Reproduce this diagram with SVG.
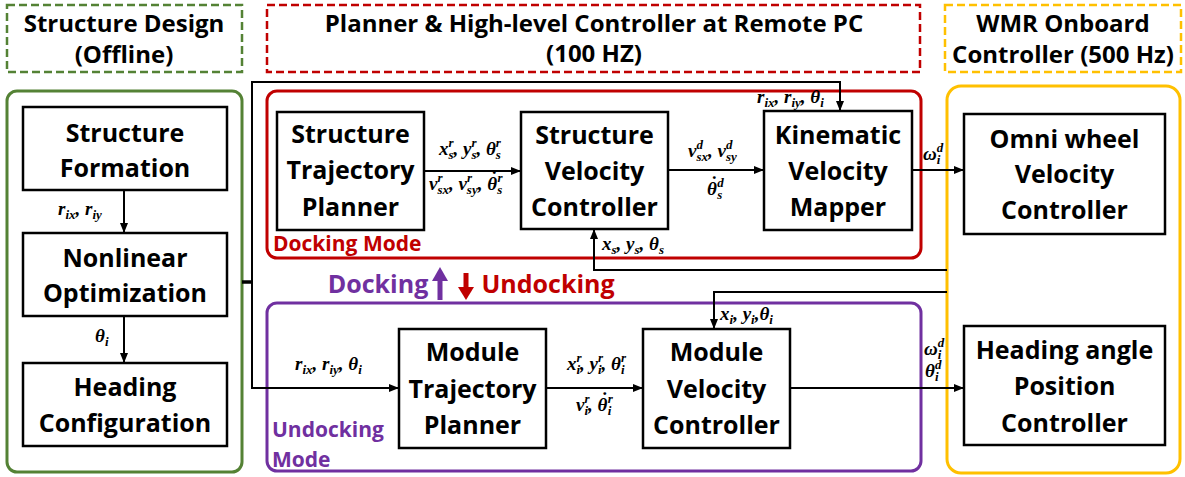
<svg xmlns="http://www.w3.org/2000/svg" width="1185" height="477" viewBox="0 0 1185 477">
<style>
.t{font-family:"Open Sans","Liberation Sans",sans-serif;font-weight:bold;font-size:25px;text-anchor:middle;fill:#000}
.h{font-size:24px}
.m{font-family:"Liberation Serif","DejaVu Serif",serif;font-style:italic;font-weight:bold;font-size:19px;fill:#000}
.s{font-size:13px}
.box{fill:#fff;stroke:#000;stroke-width:2.5}
.dash{fill:#fff;stroke-width:2.5;stroke-dasharray:8 4}
.frame{fill:none;stroke-width:3}
.c{fill:none;stroke:#000;stroke-width:2}
.mode{font-family:"Open Sans","Liberation Sans",sans-serif;font-weight:bold;font-size:21px}
</style>
<defs>
<marker id="ah" markerUnits="userSpaceOnUse" markerWidth="10" markerHeight="10" viewBox="0 0 10 10" refX="10" refY="5" orient="auto">
<path d="M0,1 L10,5 L0,9 Z" fill="#000"/>
</marker>
</defs>
<rect width="1185" height="477" fill="#fff"/>

<g id="headers">
<rect class="dash" x="7" y="5" width="235" height="67" stroke="#548235"/>
<text class="t h" x="124" y="32">Structure Design</text>
<text class="t h" x="124" y="63">(Offline)</text>
<rect class="dash" x="267" y="5" width="653" height="67" stroke="#C00000"/>
<text class="t h" x="594" y="32">Planner &amp; High-level Controller at Remote PC</text>
<text class="t h" x="594" y="62">(100 HZ)</text>
<rect class="dash" x="945" y="5" width="236" height="67" stroke="#FFC000"/>
<text class="t h" x="1063" y="32">WMR Onboard</text>
<text class="t h" x="1063" y="63">Controller (500 Hz)</text>
</g>

<g id="frames">
<rect class="frame" x="7" y="91" width="235" height="381" rx="10" stroke="#548235"/>
<rect class="frame" x="267" y="91" width="654" height="167" rx="10" stroke="#C00000"/>
<rect class="frame" x="267" y="303" width="654" height="168" rx="10" stroke="#7030A0"/>
<rect class="frame" x="947" y="86" width="233" height="387" rx="14" stroke="#FFC000"/>
<text class="mode" x="273" y="251" fill="#C00000">Docking Mode</text>
<text class="mode" x="272" y="437" fill="#7030A0">Undocking</text>
<text class="mode" x="272" y="467" fill="#7030A0">Mode</text>
</g>

<g id="mode-switch">
<text class="t" x="378" y="293" style="fill:#7030A0">Docking</text>
<rect x="437.5" y="280" width="5" height="20" fill="#7030A0"/>
<polygon points="432,281 448,281 440,267" fill="#7030A0"/>
<rect x="463.5" y="273" width="5" height="16" fill="#C00000"/>
<polygon points="458,287 474,287 466,300" fill="#C00000"/>
<text class="t" x="548" y="293" style="fill:#C00000">Undocking</text>
</g>

<g id="structure-formation">
<rect class="box" x="23" y="107" width="204" height="83"/>
<text class="t" x="125" y="142">Structure</text>
<text class="t" x="125" y="177">Formation</text>
</g>
<g id="nonlinear-optimization">
<rect class="box" x="23" y="233" width="204" height="83"/>
<text class="t" x="125" y="267">Nonlinear</text>
<text class="t" x="125" y="302">Optimization</text>
</g>
<g id="heading-configuration">
<rect class="box" x="23" y="363" width="204" height="83"/>
<text class="t" x="125" y="396">Heading</text>
<text class="t" x="125" y="432">Configuration</text>
</g>
<g id="structure-trajectory-planner">
<rect class="box" x="277" y="112" width="147" height="118"/>
<text class="t" x="350.5" y="143">Structure</text>
<text class="t" x="350.5" y="179">Trajectory</text>
<text class="t" x="350.5" y="216">Planner</text>
</g>
<g id="structure-velocity-controller">
<rect class="box" x="521" y="112" width="147" height="117"/>
<text class="t" x="594.5" y="144">Structure</text>
<text class="t" x="594.5" y="180">Velocity</text>
<text class="t" x="594.5" y="216">Controller</text>
</g>
<g id="kinematic-velocity-mapper">
<rect class="box" x="764" y="111" width="148" height="119"/>
<text class="t" x="838" y="144">Kinematic</text>
<text class="t" x="838" y="180">Velocity</text>
<text class="t" x="838" y="216">Mapper</text>
</g>
<g id="omni-wheel-velocity-controller">
<rect class="box" x="964" y="114" width="201" height="120"/>
<text class="t" x="1064.5" y="148">Omni wheel</text>
<text class="t" x="1064.5" y="183">Velocity</text>
<text class="t" x="1064.5" y="219">Controller</text>
</g>
<g id="heading-angle-position-controller">
<rect class="box" x="964" y="326" width="201" height="119"/>
<text class="t" x="1064.5" y="359">Heading angle</text>
<text class="t" x="1064.5" y="395">Position</text>
<text class="t" x="1064.5" y="432">Controller</text>
</g>
<g id="module-trajectory-planner">
<rect class="box" x="399" y="329" width="147" height="119"/>
<text class="t" x="472.5" y="361">Module</text>
<text class="t" x="472.5" y="398">Trajectory</text>
<text class="t" x="472.5" y="434">Planner</text>
</g>
<g id="module-velocity-controller">
<rect class="box" x="643" y="329" width="147" height="119"/>
<text class="t" x="716.5" y="361">Module</text>
<text class="t" x="716.5" y="398">Velocity</text>
<text class="t" x="716.5" y="434">Controller</text>
</g>

<g id="connectors">
<path class="c" d="M124 190 V233" marker-end="url(#ah)"/>
<path class="c" d="M124 316 V363" marker-end="url(#ah)"/>
<path d="M242 282 H253" stroke="#000" stroke-width="3.5"/>
<path class="c" d="M252 282 V82 H840 V111" stroke-width="2.5" marker-end="url(#ah)"/>
<path class="c" d="M252 282 V388 H399" stroke-width="2.5" marker-end="url(#ah)"/>
<path class="c" d="M424 171 H521" marker-end="url(#ah)"/>
<path class="c" d="M668 170 H764" marker-end="url(#ah)"/>
<path class="c" d="M912 170 H964" marker-end="url(#ah)"/>
<path class="c" d="M947 270 H594 V229" marker-end="url(#ah)"/>
<path class="c" d="M947 292 H714 V329" marker-end="url(#ah)"/>
<path class="c" d="M546 388 H643" marker-end="url(#ah)"/>
<path class="c" d="M790 388 H964" marker-end="url(#ah)"/>
</g>

<g id="labels">
<text class="m" x="58" y="215">r<tspan class="s" dy="4">ix</tspan><tspan dy="-4">, r</tspan><tspan class="s" dy="4">iy</tspan></text>
<text class="m" x="95" y="342">θ<tspan class="s" dy="4">i</tspan></text>
<text class="m" x="439" y="155">x<tspan class="s" dy="-8">r</tspan><tspan class="s" dx="-5.1" dy="12">s</tspan><tspan dy="-4">, y</tspan><tspan class="s" dy="-8">r</tspan><tspan class="s" dx="-5.1" dy="12">s</tspan><tspan dy="-4">, θ</tspan><tspan class="s" dy="-8">r</tspan><tspan class="s" dx="-5.1" dy="12">s</tspan></text>
<text class="m" x="429" y="190">v<tspan class="s" dy="-8">r</tspan><tspan class="s" dx="-5.1" dy="12">sx</tspan><tspan dy="-4">, v</tspan><tspan class="s" dy="-8">r</tspan><tspan class="s" dx="-5.1" dy="12">sy</tspan><tspan dy="-4">, θ</tspan><tspan dx="-7" dy="-5">˙</tspan><tspan class="s" dx="1" dy="-3">r</tspan><tspan class="s" dx="-5.1" dy="12">s</tspan></text>
<text class="m" x="688" y="157">v<tspan class="s" dy="-8">d</tspan><tspan class="s" dx="-6.5" dy="12">sx</tspan><tspan dy="-4">, v</tspan><tspan class="s" dy="-8">d</tspan><tspan class="s" dx="-6.5" dy="12">sy</tspan></text>
<text class="m" x="707" y="195">θ<tspan dx="-7" dy="-5">˙</tspan><tspan class="s" dx="1" dy="-3">d</tspan><tspan class="s" dx="-6.5" dy="12">s</tspan></text>
<text class="m" x="602" y="250">x<tspan class="s" dy="4">s</tspan><tspan dy="-4">, y</tspan><tspan class="s" dy="4">s</tspan><tspan dy="-4">, θ</tspan><tspan class="s" dy="4">s</tspan></text>
<text class="m" x="757" y="103">r<tspan class="s" dy="4">ix</tspan><tspan dy="-4">, r</tspan><tspan class="s" dy="4">iy</tspan><tspan dy="-4">, θ</tspan><tspan class="s" dy="4">i</tspan></text>
<text class="m" x="923" y="160">ω<tspan class="s" dy="-8">d</tspan><tspan class="s" dx="-6.5" dy="12">i</tspan></text>
<text class="m" x="720" y="320">x<tspan class="s" dy="4">i</tspan><tspan dy="-4">, y</tspan><tspan class="s" dy="4">i</tspan><tspan dy="-4">,θ</tspan><tspan class="s" dy="4">i</tspan></text>
<text class="m" x="567" y="370">x<tspan class="s" dy="-8">r</tspan><tspan class="s" dx="-5.1" dy="12">i</tspan><tspan dy="-4">, y</tspan><tspan class="s" dy="-8">r</tspan><tspan class="s" dx="-5.1" dy="12">i</tspan><tspan dy="-4">, θ</tspan><tspan class="s" dy="-8">r</tspan><tspan class="s" dx="-5.1" dy="12">i</tspan></text>
<text class="m" x="576" y="411">v<tspan class="s" dy="-8">r</tspan><tspan class="s" dx="-5.1" dy="12">i</tspan><tspan dy="-4">, θ</tspan><tspan dx="-7" dy="-5">˙</tspan><tspan class="s" dx="1" dy="-3">r</tspan><tspan class="s" dx="-5.1" dy="12">i</tspan></text>
<text class="m" x="924" y="355">ω<tspan class="s" dy="-8">d</tspan><tspan class="s" dx="-6.5" dy="12">i</tspan></text>
<text class="m" x="925" y="377">θ<tspan class="s" dy="-8">d</tspan><tspan class="s" dx="-6.5" dy="12">i</tspan></text>
<text class="m" x="295" y="370">r<tspan class="s" dy="4">ix</tspan><tspan dy="-4">, r</tspan><tspan class="s" dy="4">iy</tspan><tspan dy="-4">, θ</tspan><tspan class="s" dy="4">i</tspan></text>
</g>
</svg>
